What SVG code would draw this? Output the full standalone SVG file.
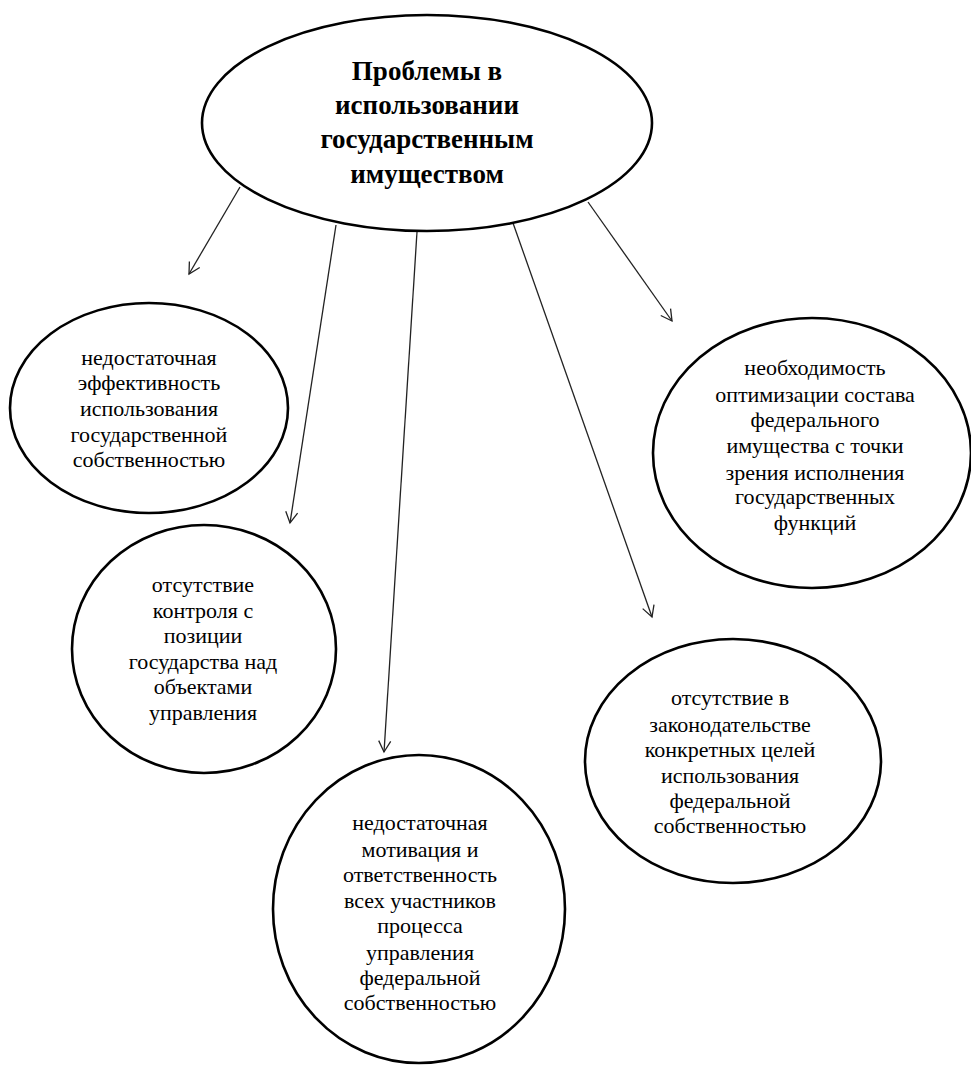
<svg xmlns="http://www.w3.org/2000/svg" width="971" height="1065" viewBox="0 0 971 1065">
<style>
.node ellipse{fill:#fff;stroke:#000;stroke-width:2.6}
.t{font-family:"Liberation Serif","Times New Roman",serif;font-size:22px;fill:#000;text-anchor:middle}
.title{font-family:"Liberation Serif","Times New Roman",serif;font-size:27px;font-weight:bold;fill:#000;text-anchor:middle}
.conn line{stroke:#222;stroke-width:1.3;marker-end:url(#arr)}
</style>
<defs>
<marker id="arr" markerUnits="userSpaceOnUse" markerWidth="14" markerHeight="14" viewBox="0 0 14 14" refX="12" refY="7" orient="auto">
<path d="M1,1 L12,7 L1,13" fill="none" stroke="#222" stroke-width="1.3"/>
</marker>
</defs>
<rect width="971" height="1065" fill="#fff"/>
<g id="connectors" class="conn">
<line x1="240" y1="187" x2="189" y2="274"/>
<line x1="336" y1="225" x2="290" y2="523"/>
<line x1="417" y1="232" x2="384" y2="752"/>
<line x1="513" y1="223" x2="652" y2="617"/>
<line x1="588" y1="202" x2="672" y2="321"/>
</g>
<g id="main" class="node">
<ellipse cx="427" cy="123" rx="225" ry="108"/>
<text class="title" x="427" y="80">Проблемы в</text>
<text class="title" x="427" y="114">использовании</text>
<text class="title" x="427" y="148">государственным</text>
<text class="title" x="427" y="183">имуществом</text>
</g>
<g id="n1" class="node">
<ellipse cx="149" cy="408" rx="139" ry="105"/>
<text class="t" x="149" y="365">недостаточная</text>
<text class="t" x="149" y="390">эффективность</text>
<text class="t" x="149" y="416">использования</text>
<text class="t" x="149" y="442">государственной</text>
<text class="t" x="149" y="467">собственностью</text>
</g>
<g id="n2" class="node">
<ellipse cx="204" cy="649" rx="132" ry="124"/>
<text class="t" x="203" y="592">отсутствие</text>
<text class="t" x="203" y="618">контроля с</text>
<text class="t" x="203" y="643">позиции</text>
<text class="t" x="203" y="669">государства над</text>
<text class="t" x="203" y="694">объектами</text>
<text class="t" x="203" y="720">управления</text>
</g>
<g id="n3" class="node">
<ellipse cx="419" cy="909" rx="146" ry="154"/>
<text class="t" x="420" y="830">недостаточная</text>
<text class="t" x="420" y="857">мотивация и</text>
<text class="t" x="420" y="882">ответственность</text>
<text class="t" x="420" y="908">всех участников</text>
<text class="t" x="420" y="933">процесса</text>
<text class="t" x="420" y="960">управления</text>
<text class="t" x="420" y="985">федеральной</text>
<text class="t" x="420" y="1010">собственностью</text>
</g>
<g id="n4" class="node">
<ellipse cx="733" cy="761" rx="148" ry="122"/>
<text class="t" x="730" y="705">отсутствие в</text>
<text class="t" x="730" y="732">законодательстве</text>
<text class="t" x="730" y="757">конкретных целей</text>
<text class="t" x="730" y="783">использования</text>
<text class="t" x="730" y="808">федеральной</text>
<text class="t" x="730" y="833">собственностью</text>
</g>
<g id="n5" class="node">
<ellipse cx="812" cy="453" rx="159" ry="135"/>
<text class="t" x="815" y="375">необходимость</text>
<text class="t" x="815" y="402">оптимизации состава</text>
<text class="t" x="815" y="427">федерального</text>
<text class="t" x="815" y="453">имущества с точки</text>
<text class="t" x="815" y="480">зрения исполнения</text>
<text class="t" x="815" y="504">государственных</text>
<text class="t" x="815" y="530">функций</text>
</g>
</svg>
